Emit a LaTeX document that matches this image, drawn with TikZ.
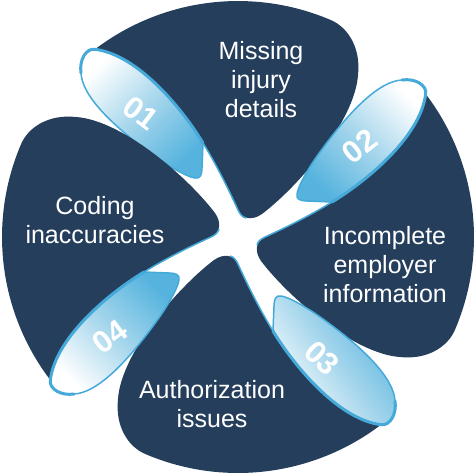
\documentclass[tikz,border=0pt]{standalone}
\usepackage{fontspec}
\setmainfont{Liberation Sans}
\definecolor{navy}{HTML}{253E5C}
\definecolor{edgeblue}{HTML}{45A9D9}
\definecolor{dropblue}{HTML}{55B3DE}
\definecolor{dropmid}{HTML}{A6D6EC}
\tikzset{
  petal/.style={fill=navy},
  leadedge/.style={draw=edgeblue, line width=1.5pt},
  dropbody/.style={draw=edgeblue, line width=1.5pt, top color=white, bottom color=dropblue, middle color=dropmid},
  droprim/.style={draw=edgeblue, line width=3pt, line cap=round},
  numlabel/.style={text=white, font=\bfseries\fontsize{31}{31}\selectfont, inner sep=0pt},
  itemlabel/.style={text=white, align=center, font=\fontsize{25}{29}\selectfont},
}
\newcommand\petalshape{(95.0,49.3) arc[start angle=-127.3,end angle=-67,radius=236]
  .. controls (348,27) and (361,48) .. (358,75)
  .. controls (355,120) and (300,185) .. (262,214)
  .. controls (252,221) and (242,219) .. (238,210)
  .. controls (228,188) and (216,164) .. (203,143)
  .. controls (185,113) and (140,55) .. (95.0,49.3) -- cycle}
\newcommand\leadpath{(246,218) .. controls (242,217) and (240,214) .. (238,210)
  .. controls (228,188) and (216,164) .. (203,143)}
\newcommand\droppath{(203,143) .. controls (185,113) and (140,55) .. (95,49.3)
  .. controls (86,48) and (79,60) .. (81,73)
  .. controls (82,95) and (110,125) .. (160,160)
  .. controls (175,170) and (188,177) .. (195,178)
  .. controls (200,179) and (202,175) .. (202,168) -- cycle}
\newcommand\rimpath{(203,143) .. controls (185,113) and (140,55) .. (95,49.3)
  .. controls (86,48) and (79,60) .. (81,73)}
\begin{document}
\begin{tikzpicture}[x=1pt,y=-1pt]
\useasboundingbox (0,0) rectangle (476,475);
\foreach \a/\sh in {0/45,-90/-45,-180/125,-270/135}{
  \begin{scope}[rotate around={\a:(238,237)}]
    \fill[petal] \petalshape;
    \draw[leadedge] \leadpath;
    \path[dropbody, shading angle=\sh] \droppath;
    \draw[droprim] \rimpath;
  \end{scope}
}
\node[numlabel, rotate=-37] (n1) at (141,113) {01};
\node[numlabel, rotate=38] (n2) at (360,146) {02};
\node[numlabel, rotate=-43] (n3) at (322,358) {03};
\node[numlabel, rotate=37] (n4) at (110,337) {04};
\node[itemlabel] (t1) at (261,80) {Missing\\injury\\details};
\node[itemlabel] (t2) at (385,265) {Incomplete\\employer\\information};
\node[itemlabel] (t3) at (212,404) {Authorization\\issues};
\node[itemlabel] (t4) at (95,220) {Coding\\inaccuracies};
\end{tikzpicture}
\end{document}
